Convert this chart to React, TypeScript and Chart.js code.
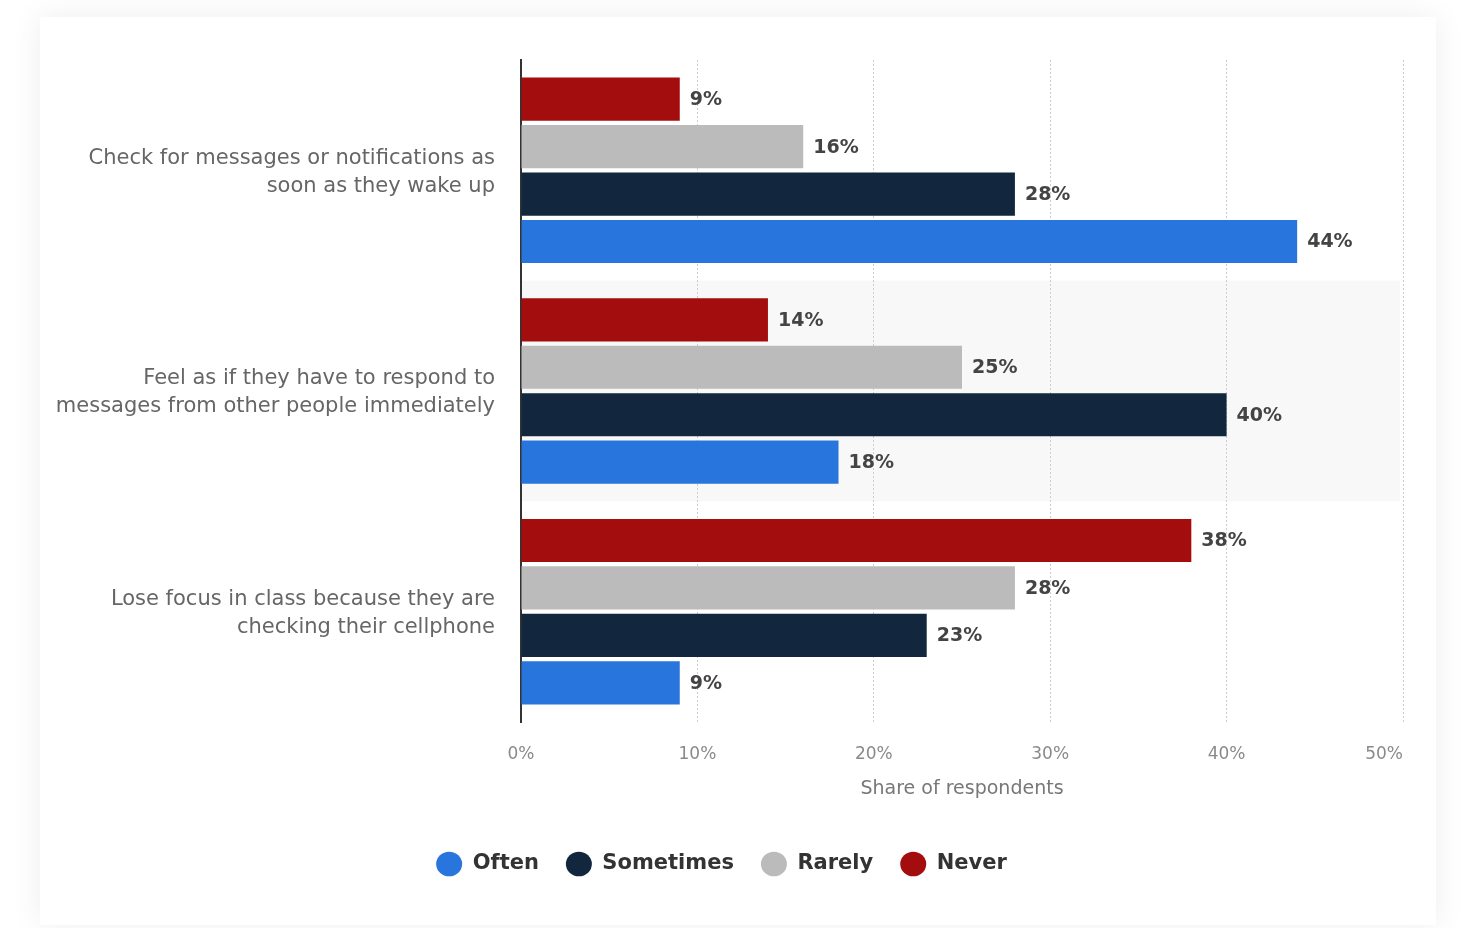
import React, { useEffect, useRef } from "react";
import { Chart, registerables } from "chart.js";

Chart.register(...registerables);

const categories: string[][] = [
  ["Check for messages or notifications as", "soon as they wake up"],
  ["Feel as if they have to respond to", "messages from other people immediately"],
  ["Lose focus in class because they are", "checking their cellphone"],
];

// datasets listed top-to-bottom within each group
const seriesNames = ["Never", "Rarely", "Sometimes", "Often"];
const seriesColors = ["#a30d0d", "#bbbbbb", "#12273d", "#2876dd"];
const neverValues = [9, 14, 38];
const rarelyValues = [16, 25, 28];
const sometimesValues = [28, 40, 23];
const oftenValues = [44, 18, 9];

const xTicks = [0, 10, 20, 30, 40, 50];

const FONT = "'DejaVu Sans', sans-serif";

export default function App() {
  const ref = useRef<HTMLCanvasElement | null>(null);

  useEffect(() => {
    if (!ref.current) return;
    const values = [neverValues, rarelyValues, sometimesValues, oftenValues];

    const bandPlugin = {
      id: "band",
      beforeDraw(chart: any) {
        const { ctx, chartArea, scales } = chart;
        const y = scales.y;
        const c = y.getPixelForValue(1);
        const half = (chartArea.bottom - chartArea.top) / categories.length / 2;
        ctx.save();
        ctx.fillStyle = "#f8f8f8";
        ctx.fillRect(chartArea.left, c - half, chartArea.right - chartArea.left - 3, half * 2);
        ctx.restore();
      },
    };

    const labelPlugin = {
      id: "valueLabels",
      afterDatasetsDraw(chart: any) {
        const { ctx } = chart;
        ctx.save();
        ctx.font = `bold 19px ${FONT}`;
        ctx.fillStyle = "#444444";
        ctx.textBaseline = "middle";
        ctx.textAlign = "left";
        chart.data.datasets.forEach((ds: any, i: number) => {
          const meta = chart.getDatasetMeta(i);
          meta.data.forEach((el: any, j: number) => {
            ctx.fillText(`${ds.data[j]}%`, el.x + 10, el.y + 1);
          });
        });
        ctx.restore();
      },
    };

    const chart = new Chart(ref.current, {
      type: "bar",
      data: {
        labels: categories,
        datasets: seriesNames.map((name, i) => ({
          label: name,
          data: values[i],
          backgroundColor: seriesColors[i],
          borderWidth: 0,
          categoryPercentage: 0.86,
          barPercentage: 0.91,
        })),
      },
      options: {
        indexAxis: "y",
        responsive: false,
        animation: false,
        devicePixelRatio: 1,
        layout: { padding: { top: 43, right: 33, left: 0, bottom: 40.5 } },
        scales: {
          x: {
            min: 0,
            max: 50,
            afterBuildTicks(scale: any) {
              scale.ticks = xTicks.map((v) => ({ value: v }));
            },
            afterFit(scale: any) {
              scale.paddingLeft = 0;
              scale.paddingRight = 0;
            },
            grid: {
              color: "#cccccc",
              lineWidth: 1,
              drawTicks: false,
            },
            border: { display: false, dash: [2, 2] },
            ticks: {
              padding: 22,
              color: "#8a8a8a",
              font: { family: FONT, size: 17, lineHeight: 1.2 },
              callback: (v: any) => (v === 50 ? `${v}%       ` : `${v}%`),
            },
            title: {
              display: true,
              text: "Share of respondents",
              color: "#777777",
              font: { family: FONT, size: 19, lineHeight: 1.2 },
              padding: { top: -8.8, bottom: 26.1 },
            },
          },
          y: {
            afterFit(scale: any) {
              scale.width = 481;
              scale.paddingTop = 0;
              scale.paddingBottom = 0;
            },
            grid: { display: false, drawTicks: false },
            border: { display: true, color: "#333333", width: 2 },
            ticks: {
              padding: 26,
              labelOffset: 2,
              color: "#666666",
              font: { family: FONT, size: 21, lineHeight: 1.333 },
            },
          },
        },
        plugins: {
          legend: {
            position: "bottom",
            reverse: true,
            labels: {
              usePointStyle: true,
              pointStyle: "circle",
              boxHeight: 17.5,
              pointStyleWidth: 26,
              padding: 27,
              color: "#333333",
              font: { family: FONT, size: 21, weight: "bold" },
            },
          },
          tooltip: { enabled: false },
        },
      },
      plugins: [bandPlugin, labelPlugin],
    });

    return () => chart.destroy();
  }, []);

  return (
    <div
      style={{
        position: "absolute",
        left: 40,
        top: 17,
        width: 1396,
        height: 908,
        background: "#ffffff",
        boxShadow: "0 0 30px rgba(0,0,0,0.07)",
      }}
    >
      <canvas ref={ref} width={1396} height={908} style={{ display: "block" }} />
    </div>
  );
}
